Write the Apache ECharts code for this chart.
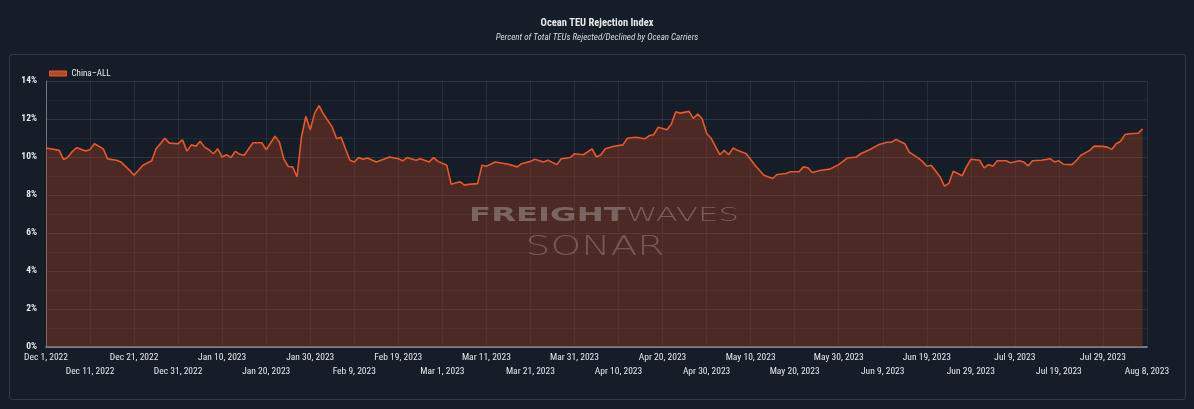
<!DOCTYPE html>
<html>
<head>
<meta charset="utf-8">
<title>Ocean TEU Rejection Index</title>
<script src="https://cdn.jsdelivr.net/npm/echarts@6.0.0/dist/echarts.min.js"></script>
<style>
    html, body { margin: 0; padding: 0; background: #151e28; }
    #chart { width: 1194px; height: 409px; }
</style>
</head>
<body>
<div id="chart"></div>
<script>
// --- Data ---

// days counted from Dec 1, 2022
const dayOffsets = [
    0, 3, 4, 5, 6, 7, 9, 10, 11, 13, 14, 16, 17, 19, 20, 22, 24, 25, 27, 28,
    30, 31, 32, 33, 34, 35, 36, 37, 38, 39, 40, 41, 42, 43, 44, 45, 47, 49, 50, 52,
    53, 54, 55, 56, 57, 58, 59, 60, 61, 62, 63, 65, 66, 67, 68, 69, 70, 71, 72, 73,
    75, 78, 80, 81, 82, 84, 85, 87, 88, 89, 91, 92, 94, 95, 96, 98, 99, 100, 102, 105,
    107, 108, 110, 111, 113, 114, 116, 117, 119, 120, 122, 124, 125, 126, 127, 129, 131, 132, 134, 136,
    137, 138, 139, 141, 142, 143, 144, 146, 147, 148, 149, 150, 151, 153, 154, 155, 156, 157, 159, 161,
    163, 165, 166, 168, 169, 171, 172, 173, 174, 176, 178, 180, 182, 184, 185, 187, 189, 191, 192, 193,
    195, 196, 198, 199, 200, 201, 203, 204, 205, 206, 207, 208, 209, 210, 212, 213, 214, 215, 216, 218,
    219, 221, 222, 223, 224, 226, 228, 229, 230, 231, 233, 234, 235, 237, 238, 240, 241, 242, 243, 244,
    245, 246, 248, 249
];

// China-ALL, percent of TEUs rejected
const rejectionPct = [
    10.47, 10.35, 9.86, 10.0, 10.3, 10.49, 10.31, 10.4, 10.7, 10.43, 9.9, 9.83, 9.74, 9.3, 9.04, 9.57, 9.8, 10.43, 10.99, 10.73,
    10.7, 10.9, 10.31, 10.64, 10.56, 10.83, 10.52, 10.38, 10.17, 10.43, 10.0, 10.12, 9.97, 10.3, 10.14, 10.09, 10.75, 10.75, 10.38, 11.1,
    10.78, 9.9, 9.5, 9.48, 8.96, 11.04, 12.14, 11.43, 12.31, 12.7, 12.26, 11.57, 10.96, 11.04, 10.43, 9.83, 9.74, 9.97, 9.88, 9.95,
    9.74, 10.0, 9.91, 9.8, 9.97, 9.83, 9.91, 9.74, 9.97, 9.77, 9.57, 8.57, 8.7, 8.52, 8.56, 8.6, 9.57, 9.51, 9.74, 9.62,
    9.48, 9.65, 9.77, 9.88, 9.74, 9.83, 9.6, 9.91, 9.97, 10.17, 10.12, 10.43, 10.0, 10.12, 10.43, 10.57, 10.64, 10.99, 11.04, 10.96,
    11.13, 11.17, 11.57, 11.43, 11.74, 12.38, 12.31, 12.4, 12.03, 12.26, 12.0, 11.25, 10.99, 10.12, 10.35, 10.12, 10.47, 10.35, 10.17, 9.57,
    9.04, 8.87, 9.08, 9.13, 9.22, 9.22, 9.48, 9.43, 9.18, 9.3, 9.36, 9.6, 9.95, 10.0, 10.17, 10.38, 10.64, 10.78, 10.78, 10.92,
    10.7, 10.26, 9.95, 9.77, 9.51, 9.57, 8.96, 8.47, 8.61, 9.25, 9.13, 9.01, 9.48, 9.88, 9.83, 9.43, 9.6, 9.51, 9.8, 9.8,
    9.7, 9.8, 9.74, 9.53, 9.8, 9.83, 9.91, 9.74, 9.8, 9.62, 9.6, 9.83, 10.09, 10.35, 10.57, 10.56, 10.52, 10.4, 10.7, 10.83,
    11.18, 11.22, 11.25, 11.48
];

// one label every 10 days, Dec 1, 2022 .. Aug 8, 2023
const tickLabels = [
    'Dec 1, 2022', 'Dec 11, 2022', 'Dec 21, 2022', 'Dec 31, 2022', 'Jan 10, 2023', 'Jan 20, 2023',
    'Jan 30, 2023', 'Feb 9, 2023', 'Feb 19, 2023', 'Mar 1, 2023', 'Mar 11, 2023', 'Mar 21, 2023',
    'Mar 31, 2023', 'Apr 10, 2023', 'Apr 20, 2023', 'Apr 30, 2023', 'May 10, 2023', 'May 20, 2023',
    'May 30, 2023', 'Jun 9, 2023', 'Jun 19, 2023', 'Jun 29, 2023', 'Jul 9, 2023', 'Jul 19, 2023',
    'Jul 29, 2023', 'Aug 8, 2023'
];

const seriesName = 'China–ALL';

// --- Chart ---

const FONT = '"Liberation Sans Narrow", "Roboto Condensed", Roboto, sans-serif';
const MARK_FONT = '"DejaVu Sans", sans-serif';
const TEXT = '#e6e8ea';
const LINE = '#e8572b';

const chart = echarts.init(document.getElementById('chart'));

const seriesData = dayOffsets.map((d, i) => [d, rejectionPct[i]]);

// the date labels alternate between two rows: even ticks on top, odd ones below
const dateAxis = (row) => ({
    type: 'value',
    position: 'bottom',
    min: 0,
    max: 250,
    interval: 10,
    axisLine: { show: row === 0, lineStyle: { color: '#8f969d', width: 1.5 } },
    axisTick: { show: false },
    splitLine: { show: row === 0, lineStyle: { color: 'rgba(255,255,255,0.07)' } },
    axisLabel: {
        color: TEXT,
        fontSize: 9.5,
        fontFamily: FONT,
        margin: row === 0 ? 6 : 20,
        showMinLabel: true,
        showMaxLabel: true,
        hideOverlap: false,
        formatter: (v) => {
            const idx = Math.round(v / 10);
            return idx % 2 === row ? (tickLabels[idx] || '') : '';
        }
    }
});

const option = {
    backgroundColor: '#151e28',
    animation: false,
    textStyle: { fontFamily: FONT },
    title: {
        text: 'Ocean TEU Rejection Index',
        subtext: 'Percent of Total TEUs Rejected/Declined by Ocean Carriers',
        left: 'center',
        top: 13,
        itemGap: 4,
        textStyle: { color: TEXT, fontSize: 10.5, fontWeight: 'bold', fontFamily: FONT },
        subtextStyle: { color: '#d8dadd', fontSize: 9, fontStyle: 'italic', fontFamily: FONT }
    },
    legend: {
        left: 44,
        top: 64,
        icon: 'rect',
        itemWidth: 17,
        itemHeight: 5,
        itemGap: 4,
        textStyle: { color: TEXT, fontSize: 9, fontFamily: FONT },
        data: [{ name: seriesName, itemStyle: { color: '#b8482a', borderColor: LINE, borderWidth: 1 } }]
    },
    grid: { left: 46, right: 47, top: 81, bottom: 62, containLabel: false },
    xAxis: [dateAxis(0), dateAxis(1)],
    yAxis: {
        type: 'value',
        min: 0,
        max: 14,
        interval: 2,
        axisLine: { show: true, lineStyle: { color: '#6f777f' } },
        axisTick: { show: false },
        splitLine: { show: true, lineStyle: { color: 'rgba(255,255,255,0.10)' } },
        minorTick: { show: false, splitNumber: 2 },
        minorSplitLine: { show: true, lineStyle: { color: 'rgba(255,255,255,0.05)' } },
        axisLabel: {
            color: TEXT,
            fontSize: 9.5,
            fontWeight: 'bold',
            fontFamily: FONT,
            margin: 9,
            formatter: '{value}%'
        }
    },
    series: [{
        name: seriesName,
        type: 'line',
        xAxisIndex: 0,
        data: seriesData,
        showSymbol: false,
        smooth: false,
        lineStyle: { color: LINE, width: 1.6 },
        itemStyle: { color: LINE },
        areaStyle: { color: 'rgba(172,60,32,0.52)' }
    }],
    graphic: [
        {
            type: 'rect',
            left: 7,
            top: 52,
            shape: { width: 1176, height: 345, r: 3 },
            style: { fill: 'none', stroke: 'rgba(255,255,255,0.12)', lineWidth: 1 },
            silent: true
        },
        {
            // watermark, drawn over the area like the original
            type: 'text',
            x: 604,
            y: 216,
            scaleX: 1.7,
            z: 100,
            silent: true,
            style: {
                text: '{b|FREIGHT}{l|WAVES}',
                align: 'center',
                verticalAlign: 'middle',
                rich: {
                    b: { fontSize: 19, fontWeight: 'bold', fontFamily: MARK_FONT, fill: 'rgba(190,190,190,0.40)' },
                    l: { fontSize: 19, fontWeight: 200, fontFamily: MARK_FONT, fill: 'rgba(190,190,190,0.36)' }
                }
            }
        },
        {
            type: 'text',
            x: 595,
            y: 248,
            scaleX: 1.45,
            z: 100,
            silent: true,
            style: {
                text: 'SONAR',
                align: 'center',
                verticalAlign: 'middle',
                font: '200 27px "DejaVu Sans", sans-serif',
                fill: 'rgba(190,190,190,0.32)'
            }
        }
    ]
};

chart.setOption(option);
window.addEventListener('resize', () => chart.resize());
</script>
</body>
</html>
